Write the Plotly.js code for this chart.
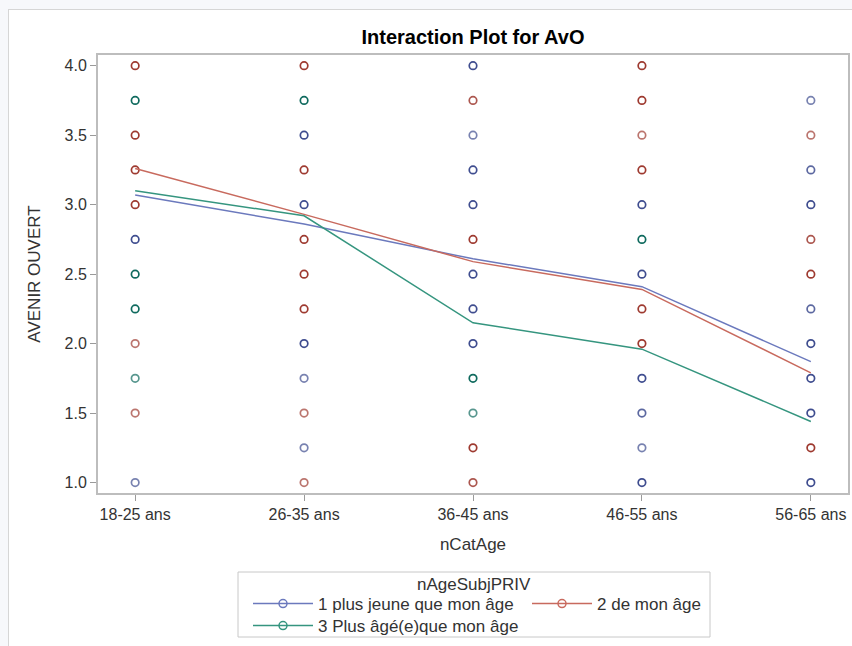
<!DOCTYPE html>
<html>
<head>
<meta charset="utf-8">
<script src="https://cdn.plot.ly/plotly-3.0.1.min.js"></script>
<style>
html, body { margin: 0; padding: 0; overflow: hidden; background: #f7f8fb; width: 852px; height: 646px; }
#frame { position: absolute; left: 8px; top: 9px; width: 860px; height: 700px; background: #ffffff; border-left: 1px solid #d6d6d6; border-top: 1px solid #d6d6d6; }
#chart { position: absolute; left: 0; top: 0; width: 850px; height: 690px; }
</style>
</head>
<body>
<div id="frame"><div id="chart"></div></div>
<script>
// ---- data ----
const categories = ['18-25 ans', '26-35 ans', '36-45 ans', '46-55 ans', '56-65 ans'];
const groupNames = ['1 plus jeune que mon âge', '2 de mon âge', '3 Plus âgé(e)que mon âge'];
const legendTitle = 'nAgeSubjPRIV';

// group means (lines)
const meanG1 = [3.07, 2.86, 2.61, 2.41, 1.87];
const meanG2 = [3.26, 2.93, 2.59, 2.39, 1.79];
const meanG3 = [3.10, 2.92, 2.15, 1.96, 1.44];

// observed responses: category index, value, number of observations at that point
const g1Cat = [0,0, 1,1,1,1,1, 2,2,2,2,2,2,2, 3,3,3,3,3,3, 4,4,4,4,4,4,4,4];
const g1Val = [2.75,1.0, 3.5,3.0,2.0,1.75,1.25, 4.0,3.5,3.25,3.0,2.5,2.25,2.0, 3.0,2.5,1.75,1.5,1.25,1.0, 3.75,3.25,3.0,2.25,2.0,1.75,1.5,1.0];
const g1N   = [3,1, 3,3,3,1,1, 3,1,3,3,3,3,3, 3,3,3,2,1,3, 1,2,3,2,3,3,3,3];

const g2Cat = [0,0,0,0,0,0, 1,1,1,1,1,1,1, 2,2,2,2, 3,3,3,3,3,3, 4,4,4,4];
const g2Val = [4.0,3.5,3.25,3.0,2.0,1.5, 4.0,3.25,2.75,2.5,2.25,1.5,1.0, 3.75,2.75,1.25,1.0, 4.0,3.75,3.5,3.25,2.25,2.0, 3.5,2.75,2.5,1.25];
const g2N   = [3,3,3,3,1,1, 3,3,3,3,3,1,1, 2,3,3,2, 3,3,1,3,3,3, 1,2,3,3];

const g3Cat = [0,0,0,0, 1, 2,2, 3];
const g3Val = [3.75,2.5,2.25,1.75, 3.75, 1.75,1.5, 2.75];
const g3N   = [3,3,3,1, 3, 3,1, 3];

const yTicks = [1.0, 1.5, 2.0, 2.5, 3.0, 3.5, 4.0];

// ---- styling ----
const FONT = 'Liberation Sans, Arial, Helvetica, sans-serif';
const markerColors = ['#3f4d8f', '#9e3a30', '#0f6a5e'];
const lineColors = ['#6b79bd', '#c86a5e', '#35957f'];
const opacityForCount = n => (n >= 3 ? 1 : (n === 2 ? 0.85 : 0.7));

const groups = [
  {cat: g1Cat, val: g1Val, n: g1N, mean: meanG1},
  {cat: g2Cat, val: g2Val, n: g2N, mean: meanG2},
  {cat: g3Cat, val: g3Val, n: g3N, mean: meanG3}
];
const legendIds = ['legend', 'legend2', 'legend3'];

const traces = [];
groups.forEach((g, i) => {
  traces.push({
    type: 'scatter', mode: 'markers',
    x: g.cat.map(c => categories[c]), y: g.val,
    showlegend: false, hoverinfo: 'skip',
    marker: {symbol: 'circle-open', size: 7.5, color: markerColors[i],
             opacity: g.n.map(opacityForCount),
             line: {width: 1.7, color: markerColors[i]}}
  });
});
groups.forEach((g, i) => {
  traces.push({
    type: 'scatter', mode: 'lines+markers',
    x: categories, y: g.mean,
    name: groupNames[i], legend: legendIds[i],
    line: {color: lineColors[i], width: 1.5},
    marker: {symbol: 'circle-open', size: 8, color: lineColors[i], line: {width: 1.5}},
    selectedpoints: [],
    unselected: {marker: {opacity: 0}},
    hoverinfo: 'skip'
  });
});

// plot area in page pixels: x 98..848, y 55..493
const PX0 = 98, PW = 750, PY1 = 493, PH = 438;
const px = v => (v - PX0) / PW;
const py = v => (PY1 - v) / PH;

const legendBase = {
  xanchor: 'left', yanchor: 'middle', orientation: 'v',
  borderwidth: 0, bgcolor: 'rgba(0,0,0,0)',
  font: {size: 17, color: '#333333'}, itemwidth: 60,
  itemclick: false, itemdoubleclick: false
};

const H = 690;
const layout = {
  width: 850, height: H,
  margin: {l: 89, r: 11, t: 45, b: H - 483},
  paper_bgcolor: '#ffffff', plot_bgcolor: '#ffffff',
  font: {family: FONT, color: '#333333', size: 16},
  title: {text: 'Interaction Plot for AvO', x: 0.5, xref: 'paper', xanchor: 'center',
          y: 1 - 27 / H, yref: 'container', yanchor: 'middle',
          font: {family: FONT, size: 20, color: '#000000', weight: 'bold'}},
  xaxis: {
    type: 'category', categoryorder: 'array', categoryarray: categories,
    range: [-0.22, 4.22], automargin: false,
    showgrid: false, zeroline: false,
    showline: true, mirror: true, linecolor: '#bdbdbd', linewidth: 2,
    ticks: 'outside', ticklen: 6, tickcolor: '#9a9a9a', tickwidth: 1,
    ticklabelstandoff: 0,
    tickfont: {size: 16, color: '#333333'},
    title: {text: 'nCatAge', font: {size: 17, color: '#333333'}, standoff: 16}
  },
  yaxis: {
    range: [0.925, 4.077], automargin: false,
    tickvals: yTicks, ticktext: yTicks.map(v => v.toFixed(1)),
    showgrid: false, zeroline: false,
    showline: true, mirror: true, linecolor: '#bdbdbd', linewidth: 2,
    ticks: 'outside', ticklen: 6, tickcolor: '#9a9a9a', tickwidth: 1,
    tickfont: {size: 16, color: '#333333'},
    title: {text: 'AVENIR OUVERT', font: {size: 17, color: '#333333'}, standoff: 20}
  },
  showlegend: true,
  legend:  Object.assign({}, legendBase, {x: px(248), y: py(604)}),
  legend2: Object.assign({}, legendBase, {x: px(527), y: py(604)}),
  legend3: Object.assign({}, legendBase, {x: px(248), y: py(626)}),
  shapes: [{
    type: 'rect', xref: 'paper', yref: 'paper',
    x0: px(238), x1: px(710), y0: py(572), y1: py(637),
    line: {color: '#c8c8c8', width: 1}, fillcolor: 'rgba(0,0,0,0)', layer: 'above'
  }],
  annotations: [{
    text: legendTitle, xref: 'paper', yref: 'paper', x: px(474), y: py(584),
    xanchor: 'center', yanchor: 'middle', showarrow: false,
    font: {size: 17, color: '#333333'}
  }]
};

Plotly.newPlot('chart', traces, layout, {staticPlot: true, displayModeBar: false});
</script>
</body>
</html>
